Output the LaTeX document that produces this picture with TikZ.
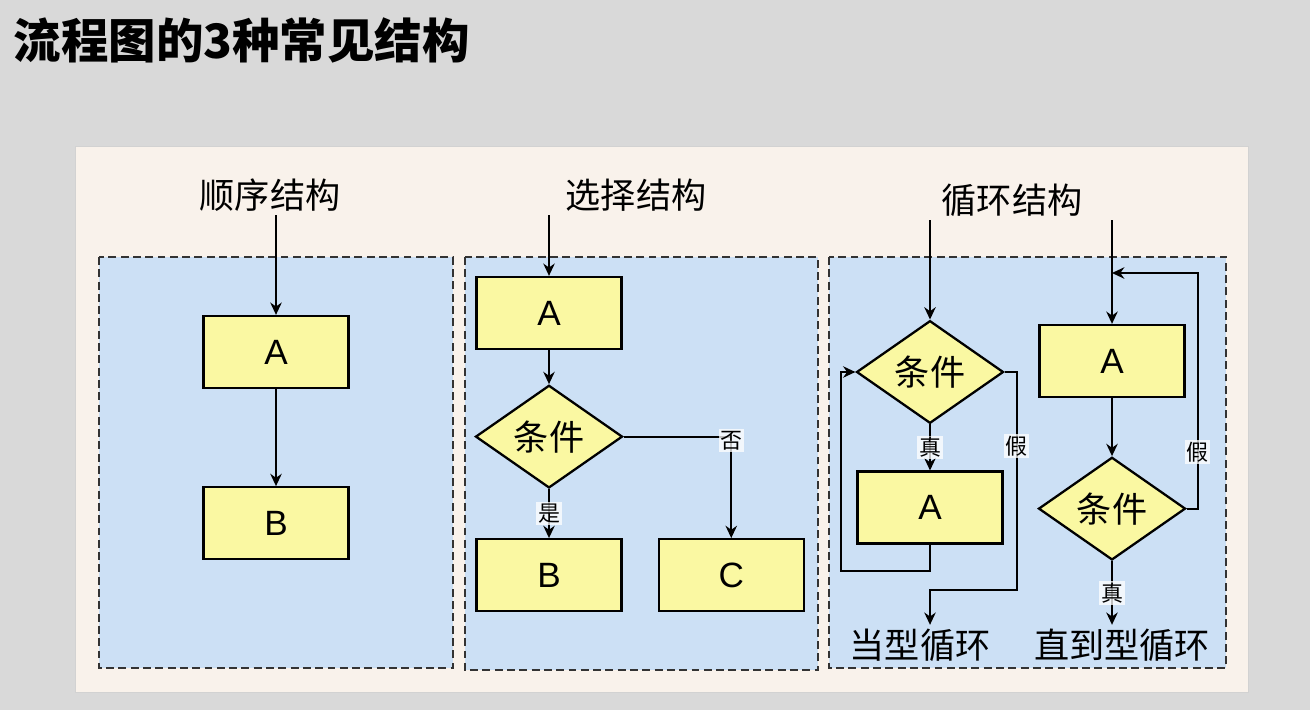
\documentclass[tikz,border=0pt]{standalone}
\usepackage{fontspec}
\setmainfont{Noto Sans CJK SC}
\newfontfamily\latinfont{Liberation Sans}
\usetikzlibrary{arrows.meta,positioning,shapes.geometric}
\definecolor{pagegray}{HTML}{D9D9D9}
\definecolor{panelcream}{HTML}{F9F2EB}
\definecolor{areablue}{HTML}{CCE0F5}
\definecolor{boxyellow}{HTML}{FAF8A2}
\definecolor{dashgray}{HTML}{333333}

\begin{document}
\begin{tikzpicture}[x=0.02cm,y=-0.02cm,
  every node/.style={align=center,inner sep=2pt,font=\fontsize{20}{24}\selectfont},
  procbox/.style={draw,line width=1.3pt,fill=boxyellow,minimum width=2.9cm,minimum height=1.44cm,font=\latinfont\fontsize{20}{24}\selectfont},
  decision/.style={diamond,draw,line width=1.3pt,fill=boxyellow,minimum width=2.94cm,minimum height=1.86cm,inner sep=0pt},
  edgelabel/.style={fill=white,fill opacity=.75,text opacity=1,inner sep=1pt,font=\fontsize{12.5}{14}\selectfont},
  flow/.style={-{Stealth[length=7pt,width=6.5pt]},line width=1.25pt},
  area/.style={fill=areablue,draw=dashgray,line width=1.2pt,dash pattern=on 4.5pt off 2.5pt}]
% page and panels
\fill[pagegray] (0,0) rectangle (1310,710);
\draw[gray!35,fill=panelcream] (75,146) rectangle (1248,692);
\draw[area] (99,257) rectangle (453,668);
\draw[area] (465,257) rectangle (818,670);
\draw[area] (829,257) rectangle (1226,668);
\node[anchor=west,font=\bfseries\fontsize{27}{30}\selectfont] (title) at (10,40) {流程图的3种常见结构};

% sequence
\node (h1) at (270,195) {顺序结构};
\node[procbox] (a1) at (276,352) {A};
\node[procbox,below=1.94cm of a1] (b1) {B};
\draw[flow] (a1.north |- h1.south) -- (a1.north);
\draw[flow] (a1.south) -- (b1.north);

% selection
\node (h2) at (636,195) {选择结构};
\node[procbox] (a2) at (549,313) {A};
\node[decision,below=0.68cm of a2] (d2) {条件};
\node[procbox,below=0.98cm of d2] (b2) {B};
\node[procbox,right=0.7cm of b2] (c2) {C};
\draw[flow] (a2.north |- h2.south) -- (a2.north);
\draw[flow] (a2.south) -- (d2.north);
\draw[flow] (d2.south) -- node[edgelabel]{是} (b2.north);
\draw[flow] (d2.east) -| node[edgelabel,pos=0.52]{否} (c2.north);

% loops
\node (h3) at (1012,200) {循环结构};
\node[decision] (d3) at (930,372) {条件};
\node[procbox,below=0.92cm of d3] (a3) {A};
\node (l3) at (920,645) {当型循环};
\coordinate (out3) at (930,590);
\draw[flow] (d3.north |- h3.south) -- (d3.north);
\draw[flow] (d3.south) -- node[edgelabel]{真} (a3.north);
\draw[flow] (a3.south) -- ++(0,26) -| ([xshift=-0.28cm]d3.west) -- (d3.west);
\draw[flow] (d3.east) -- ++(12,0) |- node[edgelabel,pos=0.17]{假} (out3) -- (out3 |- l3.north);

\node[procbox] (a4) at (1112,361) {A};
\node[decision,below=1.16cm of a4] (d4) {条件};
\node (l4) at (1122,645) {直到型循环};
\coordinate (join4) at (1112,273);
\draw[flow] (a4.north |- h3.south) -- (a4.north);
\draw[flow] (a4.south) -- (d4.north);
\draw[flow] (d4.east) -- ++(11,0) |- node[edgelabel,pos=0.12]{假} (join4);
\draw[flow] (d4.south) -- node[edgelabel]{真} (d4.south |- l4.north);
\end{tikzpicture}
\end{document}
